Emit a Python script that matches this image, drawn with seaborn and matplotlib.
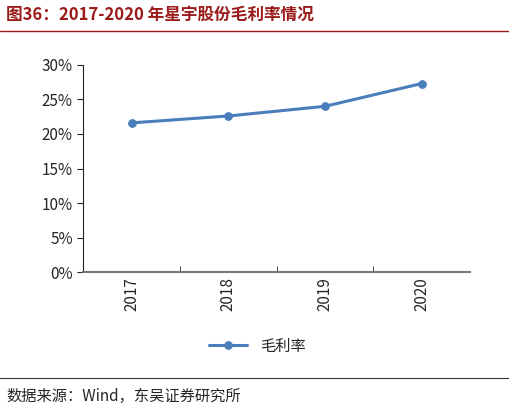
import matplotlib
matplotlib.use("Agg")
from matplotlib import pyplot as plt
import seaborn as sns
import pandas as pd

years = ["2017", "2018", "2019", "2020"]
gross_margin = [21.6, 22.6, 24.0, 27.3]
series_name = "毛利率"

sns.set_style("white")
plt.rcParams['font.family'] = ['Noto Sans CJK SC', 'DejaVu Sans']

df = pd.DataFrame({"year": years, "value": gross_margin})

fig = plt.figure(figsize=(5.10, 4.13), dpi=100)
ax = fig.add_axes([0.163, 0.341, 0.759, 0.502])
sns.lineplot(data=df, x="year", y="value", ax=ax, color="#4a7ebb", linewidth=2.2,
             marker="o", markersize=5.5, markeredgecolor="#4a7ebb", label=series_name,
             sort=False)
ax.set_ylim(0, 30)
ax.set_yticks(range(0, 31, 5))
ax.set_yticklabels([f"{v}%" for v in range(0, 31, 5)], fontsize=11)
ax.set_xlim(-0.5, 3.5)
ax.tick_params(axis="x", labelrotation=90, labelsize=11, length=0)
ax.tick_params(axis="y", left=True, direction="out", length=4, color="#222222")
ax.set_xticks([0.5, 1.5, 2.5], minor=True)
ax.tick_params(axis="x", which="minor", bottom=True, direction="in", length=4, color="#222222")
ax.set_xlabel("")
ax.set_ylabel("")
for s in ["top", "right"]:
    ax.spines[s].set_visible(False)
ax.spines["left"].set_color("#222222")
ax.spines["bottom"].set_color("#777777")
ax.spines["bottom"].set_linewidth(1.5)
ax.legend(loc="upper center", bbox_to_anchor=(0.45, -0.25), frameon=False, fontsize=11,
          handlelength=2.5)

fig.text(0.012, 0.965, "图36：2017-2020 年星宇股份毛利率情况", color="#9b1b1b",
         fontsize=12, fontweight="bold", va="center")
fig.add_artist(plt.Line2D([0.0, 1.0], [0.925, 0.925], color="#9b1b1b", linewidth=1))
fig.add_artist(plt.Line2D([0.0, 1.0], [0.085, 0.085], color="#333333", linewidth=0.8))
fig.text(0.012, 0.04, "数据来源：Wind，东吴证券研究所", fontsize=11, va="center")

fig.savefig("out.png", dpi=100)
